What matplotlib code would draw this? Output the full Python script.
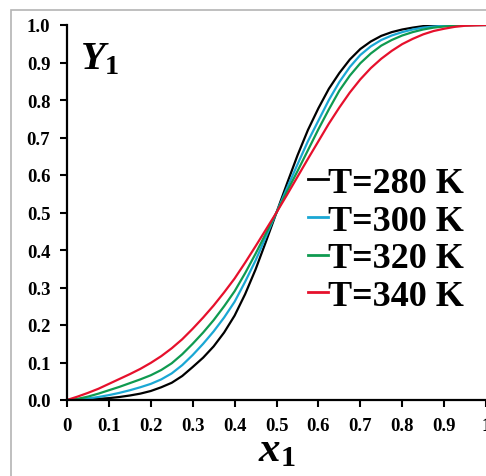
import matplotlib
matplotlib.use("Agg")
import matplotlib.pyplot as plt
from matplotlib.patches import Rectangle

plt.rcParams['font.family'] = 'Liberation Serif'
plt.rcParams['mathtext.fontset'] = 'custom'
plt.rcParams['mathtext.it'] = 'Liberation Serif:italic:bold'
plt.rcParams['mathtext.rm'] = 'Liberation Serif:bold'

# mole fraction x1
x1 = [0, 0.025, 0.05, 0.075, 0.1, 0.125, 0.15, 0.175, 0.2, 0.225, 0.25,
      0.275, 0.3, 0.325, 0.35, 0.375, 0.4, 0.425, 0.45, 0.475, 0.5,
      0.525, 0.55, 0.575, 0.6, 0.625, 0.65, 0.675, 0.7, 0.725, 0.75,
      0.775, 0.8, 0.825, 0.85, 0.875, 0.9, 0.925, 0.95, 0.975, 1]

y_280 = [0, 0.0, 0.001, 0.003, 0.005, 0.008, 0.012, 0.017, 0.024, 0.034, 0.046,
         0.064, 0.088, 0.113, 0.143, 0.18, 0.225, 0.282, 0.348, 0.423, 0.5,
         0.577, 0.652, 0.72, 0.778, 0.83, 0.872, 0.908, 0.936, 0.956, 0.971,
         0.981, 0.988, 0.993, 0.997, 0.999, 1.0, 1.0, 1.0, 1.0, 1.0]
y_300 = [0, 0.001, 0.004, 0.008, 0.013, 0.019, 0.026, 0.034, 0.043, 0.055, 0.071,
         0.093, 0.12, 0.15, 0.183, 0.22, 0.262, 0.315, 0.372, 0.436, 0.5,
         0.565, 0.628, 0.69, 0.745, 0.8, 0.848, 0.888, 0.92, 0.943, 0.96,
         0.972, 0.981, 0.988, 0.993, 0.996, 0.998, 0.999, 1.0, 1.0, 1.0]
y_320 = [0, 0.003, 0.009, 0.017, 0.026, 0.035, 0.045, 0.055, 0.066, 0.08, 0.098,
         0.122, 0.15, 0.18, 0.213, 0.25, 0.29, 0.338, 0.39, 0.445, 0.5,
         0.556, 0.61, 0.666, 0.722, 0.775, 0.825, 0.865, 0.898, 0.924, 0.945,
         0.96, 0.972, 0.981, 0.988, 0.993, 0.996, 0.998, 0.999, 1.0, 1.0]
y_340 = [0, 0.009, 0.019, 0.03, 0.043, 0.056, 0.069, 0.083, 0.099, 0.117, 0.138,
         0.162, 0.19, 0.22, 0.252, 0.287, 0.324, 0.366, 0.41, 0.455, 0.5,
         0.547, 0.595, 0.643, 0.69, 0.737, 0.78, 0.82, 0.855, 0.885, 0.91,
         0.931, 0.949, 0.963, 0.975, 0.984, 0.99, 0.995, 0.998, 0.999, 1.0]

labels = ["T=280 K", "T=300 K", "T=320 K", "T=340 K"]
colors = ["#000000", "#1aa7d4", "#0f9a50", "#e6102c"]

xticks = [0, 0.1, 0.2, 0.3, 0.4, 0.5, 0.6, 0.7, 0.8, 0.9, 1]
xtick_labels = ["0", "0.1", "0.2", "0.3", "0.4", "0.5", "0.6", "0.7", "0.8", "0.9", "1"]
yticks = [0, 0.1, 0.2, 0.3, 0.4, 0.5, 0.6, 0.7, 0.8, 0.9, 1.0]

fig = plt.figure(figsize=(4.86, 4.77), dpi=100)
ax = fig.add_axes([67/486, 1 - 401/477, 1 - 67/486, 375/477])

for ys, lab, c in zip([y_280, y_300, y_320, y_340], labels, colors):
    ax.plot(x1, ys, color=c, lw=1.6, label=lab)

ax.set_xlim(0, 1)
ax.set_ylim(0, 1)
ax.set_xticks(xticks)
ax.set_xticklabels(xtick_labels)
ax.set_yticks(yticks)
ax.set_yticklabels(["%.1f" % v for v in yticks])
for s in ["top", "right"]:
    ax.spines[s].set_visible(False)
for s in ["left", "bottom"]:
    ax.spines[s].set_linewidth(1.6)
ax.tick_params(direction="out", length=5, width=1.5, labelsize=13.5)
ax.tick_params(axis="y", pad=7)
ax.tick_params(axis="x", pad=7)
for t in ax.get_xticklabels() + ax.get_yticklabels():
    t.set_fontweight("bold")

ax.text(0.03, 0.96, "$Y_1$", transform=ax.transAxes, fontsize=29,
        ha="left", va="top")
fig.text(0.57, 1 - 470/477, "$x_1$", fontsize=31, ha="center", va="bottom")

leg = ax.legend(loc="center left", bbox_to_anchor=(0.575, 0.427), frameon=False,
                handlelength=0.55, handletextpad=0.0, labelspacing=0.12,
                borderpad=0, borderaxespad=0, prop={"weight": "bold", "size": 26})
for h in leg.get_lines():
    h.set_linewidth(2)

# light gray frame around the figure
fig.add_artist(Rectangle((11/486, -0.1), 1.2, 1.1 - 11/477, transform=fig.transFigure,
                         fill=False, edgecolor="#b4b4b4", lw=1.2, clip_on=False))

fig.savefig("out.png", dpi=100)
